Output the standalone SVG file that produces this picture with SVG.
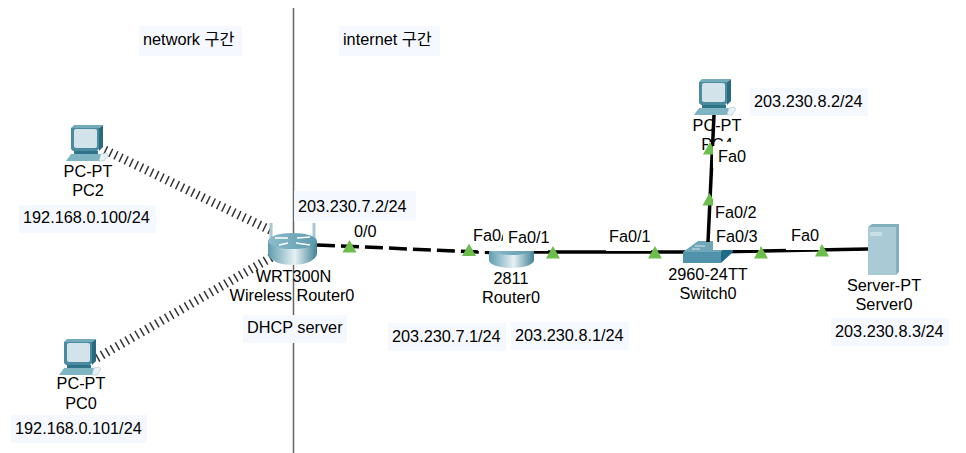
<svg xmlns="http://www.w3.org/2000/svg" width="966" height="453" viewBox="0 0 966 453">
<style>
text{font-family:"Liberation Sans",Arial,"Noto Sans CJK KR",sans-serif;font-size:16.300px;fill:#000}
.c{text-anchor:middle}
.lb{fill:#f6f8ff}
.wh{fill:#fff}
.tri{fill:#6cbd4b}
.wire{fill:none;stroke:#333;stroke-width:9;stroke-dasharray:1.500 4.200}
.cu{fill:none;stroke:#000;stroke-width:3.500}
</style>
<defs>
<linearGradient id="cyl" x1="0" x2="1" y1="0" y2="0"><stop offset="0" stop-color="#5d9cae"/><stop offset=".55" stop-color="#e6f1f4"/><stop offset="1" stop-color="#3f8295"/></linearGradient>
<linearGradient id="top" x1="0" x2="1" y1="0" y2="0"><stop offset="0" stop-color="#8dbccb"/><stop offset="1" stop-color="#5a9aae"/></linearGradient>
<g id="pc">
<path d="M5 3H33V24L31 26H7L5 24Z" fill="#4a8ba0"/>
<path d="M33 3L37 0V22L33 26Z" fill="#2b6a7e"/>
<path d="M5 3L8 0H37L33 3Z" fill="#74abba"/>
<rect x="8" y="4" width="23" height="19" rx="2" fill="#d2e3ea"/>
<rect x="8" y="26" width="24" height="3" fill="#2f7488"/>
<path d="M5 29H35L33 36H0Z" fill="#7fb4c2"/>
<path d="M35 29L40 28L42 30L38 36H33Z" fill="#e8f1f4" stroke="#9fc3ce" stroke-width=".6"/>
</g>
<path id="t" class="tri" d="M0 0L7 12.500H-7Z"/>
</defs>

<line x1="293.500" y1="8" x2="293.500" y2="453" stroke="#666" stroke-width="1.500"/>

<g id="connectors">
<line class="wire" x1="105" y1="150" x2="274" y2="232"/>
<line class="wire" x1="97" y1="358" x2="272" y2="257"/>
<line x1="317" y1="245" x2="490" y2="252.500" fill="none" stroke="#000" stroke-width="3.500" stroke-dasharray="18 6"/>
<line class="cu" x1="512" y1="252" x2="705" y2="252"/>
<line class="cu" x1="708" y1="252" x2="868" y2="249"/>
</g>

<g id="n-router0">
<path d="M489 248V260C489 265 500 268 511.500 268S534 265 534 260V248Z" fill="url(#cyl)"/>
<ellipse cx="511.500" cy="248" rx="22.500" ry="7" fill="url(#top)"/>
<text class="c" x="511" y="284">2811</text>
<text class="c" x="511" y="303">Router0</text>
</g>

<g id="n-switch0">
<path d="M683 252H721V263H683Z" fill="#4f92aa"/>
<path d="M721 263V252L733 241V252Z" fill="#1f6a86"/>
<path d="M683 252L698 241H733L721 252Z" fill="#6fa6b8"/>
<path d="M695 246h10M692 249h8" stroke="#d5e6ec" stroke-width="1"/>
<text class="c" x="708" y="280">2960-24TT</text>
<text class="c" x="708" y="299">Switch0</text>
</g>

<g id="n-server0">
<path d="M868 227L872 224H899V272L896 275Z" fill="#82b0bc"/>
<rect x="868" y="227" width="28" height="48" fill="#aacbd6"/>
<rect x="870" y="232" width="12" height="4" fill="#c8dfe6"/>
<text class="c" x="884" y="291">Server-PT</text>
<text class="c" x="884" y="310">Server0</text>
<rect class="lb" x="831" y="318" width="118" height="28"/>
<text x="835" y="337">203.230.8.3/24</text>
</g>

<g id="n-pc4">
<use href="#pc" x="694" y="79"/>
<text class="c" x="717" y="131">PC-PT</text>
<text class="c" x="717" y="150">PC4</text>
<rect class="wh" x="708" y="142" width="40" height="26"/>
<line x1="714" y1="115" x2="708" y2="242" stroke="#000" stroke-width="3.500"/>
<rect class="lb" x="750" y="88" width="118" height="28"/>
<text x="754" y="107">203.230.8.2/24</text>
</g>

<g id="ports">
<use href="#t" x="349.500" y="240"/>
<use href="#t" x="469" y="243.500"/>
<use href="#t" x="553" y="246"/>
<use href="#t" x="655" y="246"/>
<use href="#t" x="761" y="246"/>
<use href="#t" x="822" y="244"/>
<use href="#t" x="710" y="142"/>
<use href="#t" x="709.500" y="193"/>
</g>

<g id="port-labels">
<rect class="wh" x="352" y="222" width="26" height="18"/>
<text x="354" y="237">0/0</text>
<rect class="wh" x="476" y="226" width="27" height="17"/>
<rect class="wh" x="478" y="243" width="25" height="8"/>
<text x="473" y="241">Fa0/0</text>
<rect class="wh" x="503" y="228" width="45" height="23"/>
<text x="508" y="243">Fa0/1</text>
<rect class="wh" x="606" y="228" width="45" height="23"/>
<text x="609" y="242">Fa0/1</text>
<rect class="wh" x="713" y="146" width="36" height="22"/>
<text x="718" y="162">Fa0</text>
<rect class="wh" x="713" y="200" width="46" height="25"/>
<text x="715" y="218">Fa0/2</text>
<rect class="wh" x="713" y="225" width="47" height="25"/>
<text x="716" y="242">Fa0/3</text>
<rect class="wh" x="786" y="225" width="34" height="25"/>
<text x="791" y="241">Fa0</text>
</g>

<g id="n-pc2">
<use href="#pc" x="66" y="125"/>
<text class="c" x="88" y="177">PC-PT</text>
<text class="c" x="88" y="196">PC2</text>
<rect class="lb" x="19" y="205" width="137" height="28"/>
<text x="23" y="223">192.168.0.100/24</text>
</g>

<g id="n-pc0">
<use href="#pc" x="59" y="339"/>
<text class="c" x="81" y="389">PC-PT</text>
<text class="c" x="81" y="409">PC0</text>
<rect class="lb" x="11" y="415" width="136" height="28"/>
<text x="15" y="434">192.168.0.101/24</text>
</g>

<g id="n-wrt">
<path d="M271 242V223M314 242V223" stroke="#a9c8d2" stroke-width="3"/>
<path d="M268 241V253C268 260 279 265 292.500 265S317 260 317 253V241Z" fill="url(#cyl)"/>
<ellipse cx="292.500" cy="241" rx="24.500" ry="8" fill="url(#top)"/>
<path d="M275 238h13M297 238l13 -1M279 245l9 -2M296 243l14 2" stroke="#fff" stroke-width="1.500"/>
<text class="c" x="293.500" y="282">WRT300N</text>
<text class="c" x="292" y="301">Wireless Router0</text>
</g>

<g id="notes">
<rect class="lb" x="139" y="26" width="103" height="30"/>
<text x="143" y="45">network 구간</text>
<rect class="lb" x="339" y="26" width="101" height="30"/>
<text x="343" y="45">internet 구간</text>
<rect class="lb" x="294" y="191" width="122" height="30"/>
<text x="298" y="212">203.230.7.2/24</text>
<rect class="lb" x="243" y="315" width="104" height="28"/>
<text x="247" y="333">DHCP server</text>
<rect class="lb" x="388" y="323" width="118" height="28"/>
<text x="392" y="342">203.230.7.1/24</text>
<rect class="lb" x="511" y="322" width="118" height="28"/>
<text x="515" y="341">203.230.8.1/24</text>
</g>
</svg>
